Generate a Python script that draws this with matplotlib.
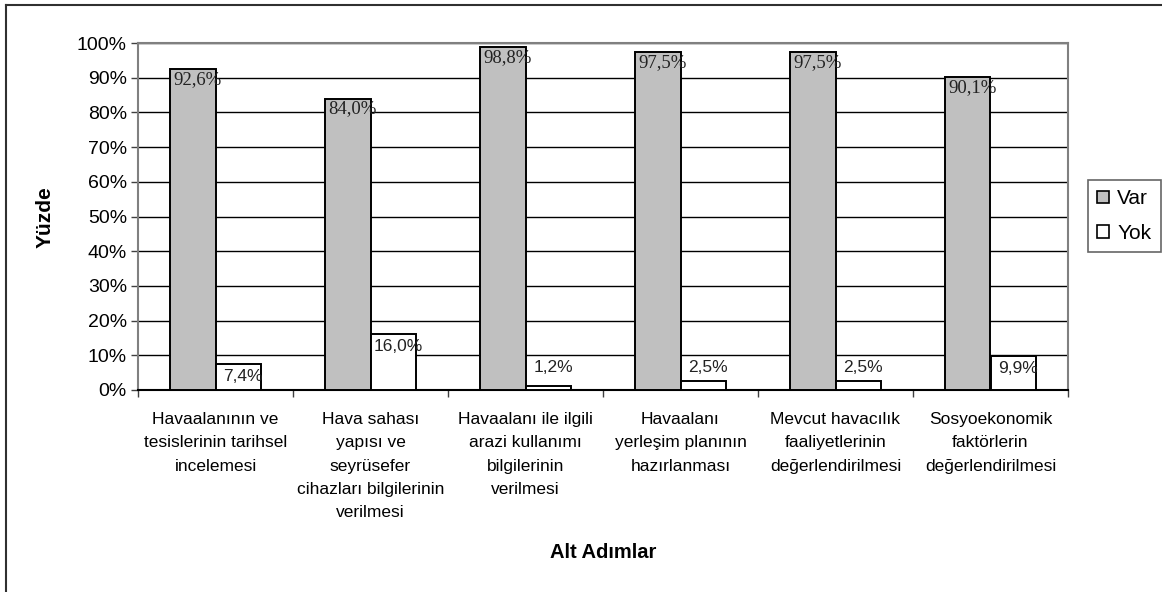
import matplotlib
matplotlib.use("Agg")
import matplotlib.pyplot as plt
from matplotlib.patches import Patch
from matplotlib.lines import Line2D
from matplotlib.transforms import offset_copy
import numpy as np

categories = [
    "Havaalanının ve\ntesislerinin tarihsel\nincelemesi",
    "Hava sahası\nyapısı ve\nseyrüsefer\ncihazları bilgilerinin\nverilmesi",
    "Havaalanı ile ilgili\narazi kullanımı\nbilgilerinin\nverilmesi",
    "Havaalanı\nyerleşim planının\nhazırlanması",
    "Mevcut havacılık\nfaaliyetlerinin\ndeğerlendirilmesi",
    "Sosyoekonomik\nfaktörlerin\ndeğerlendirilmesi",
]
var_values = [92.6, 84.0, 98.8, 97.5, 97.5, 90.1]
yok_values = [7.4, 16.0, 1.2, 2.5, 2.5, 9.9]
series_names = ["Var", "Yok"]
y_ticks = [0, 10, 20, 30, 40, 50, 60, 70, 80, 90, 100]

W, H = 1162, 592
fig = plt.figure(figsize=(W / 100, H / 100), dpi=100)
ax = fig.add_axes([138 / W, 1 - 390 / H, (1068 - 138) / W, (390 - 43) / H])

sans = ["Liberation Sans", "DejaVu Sans"]
serif = ["Liberation Serif", "DejaVu Serif"]

x = np.arange(len(categories))
bw = 0.294
ax.bar(x - bw / 2, var_values, width=bw, color="#C0C0C0", edgecolor="black",
       linewidth=1.4, zorder=3, label=series_names[0])
ax.bar(x + bw / 2, yok_values, width=bw, color="white", edgecolor="black",
       linewidth=1.4, zorder=3, label=series_names[1])

ax.set_xlim(-0.5, len(categories) - 0.5)
ax.set_ylim(0, 100)
ax.set_yticks(y_ticks)
ax.set_yticklabels([f"{t}%" for t in y_ticks], family=sans, fontsize=14)
ax.tick_params(axis="y", direction="out", length=5, width=1, color="#404040", pad=3)

ax.set_xticks(x)
ax.set_xticklabels(categories, family=sans, fontsize=12.5, linespacing=1.68)
ax.tick_params(axis="x", which="major", length=0, pad=16)
ax.set_xticks(np.arange(len(categories) + 1) - 0.5, minor=True)
ax.tick_params(axis="x", which="minor", direction="out", length=5, width=1, color="#404040")

ax.yaxis.grid(True, color="black", linewidth=1.0, zorder=1)
ax.set_axisbelow(True)
for s in ["top", "right", "left"]:
    ax.spines[s].set_color("#808080")
    ax.spines[s].set_linewidth(1.5)
ax.spines["bottom"].set_color("black")
ax.spines["bottom"].set_linewidth(1.5)
ax.spines["top"].set_zorder(4)

tr_var = offset_copy(ax.transData, fig=fig, x=3, y=-2, units="dots")
for xi, v in zip(x, var_values):
    ax.text(xi - bw, v, f"{v:.1f}%".replace(".", ","), transform=tr_var,
            family=serif, fontsize=13.5, ha="left", va="top", zorder=5, color="#222222")

tr_yok = offset_copy(ax.transData, fig=fig, x=5, y=-5, units="dots")
tr_yok_small = offset_copy(ax.transData, fig=fig, x=5, y=0, units="dots")
for xi, v in zip(x, yok_values):
    lab = f"{v:.1f}%".replace(".", ",")
    if v > 5:
        ax.text(xi + bw / 2, v, lab, transform=tr_yok, family=sans, fontsize=12.5,
                ha="center", va="top", zorder=5, color="#222222")
    else:
        ax.text(xi + bw / 2, 6.5, lab, transform=tr_yok_small, family=sans, fontsize=12.5,
                ha="center", va="center", zorder=5, color="#222222")

fig.text(45 / W, 1 - 217 / H, "Yüzde", rotation=90, family=sans, fontsize=15,
         fontweight="bold", ha="center", va="center")
fig.text(603 / W, 1 - 553 / H, "Alt Adımlar", family=sans, fontsize=14.5,
         fontweight="bold", ha="center", va="center")

handles = [Patch(facecolor="#C0C0C0", edgecolor="black", linewidth=1.2),
           Patch(facecolor="white", edgecolor="black", linewidth=1.2)]
leg = fig.legend(handles, series_names, loc="upper left",
                 bbox_to_anchor=(1088 / W, 1 - 180 / H),
                 prop={"family": sans, "size": 15}, frameon=True, fancybox=False,
                 edgecolor="#404040", handlelength=0.55, handleheight=0.55,
                 handletextpad=0.4, labelspacing=0.75, borderpad=0.45, borderaxespad=0)
leg.get_frame().set_linewidth(1.2)

fig.add_artist(Line2D([6 / W, 1], [1 - 5 / H, 1 - 5 / H], transform=fig.transFigure,
                      color="#303030", linewidth=1.5))
fig.add_artist(Line2D([6 / W, 6 / W], [0, 1 - 5 / H], transform=fig.transFigure,
                      color="#303030", linewidth=1.5))

fig.savefig("out.png", dpi=100)
